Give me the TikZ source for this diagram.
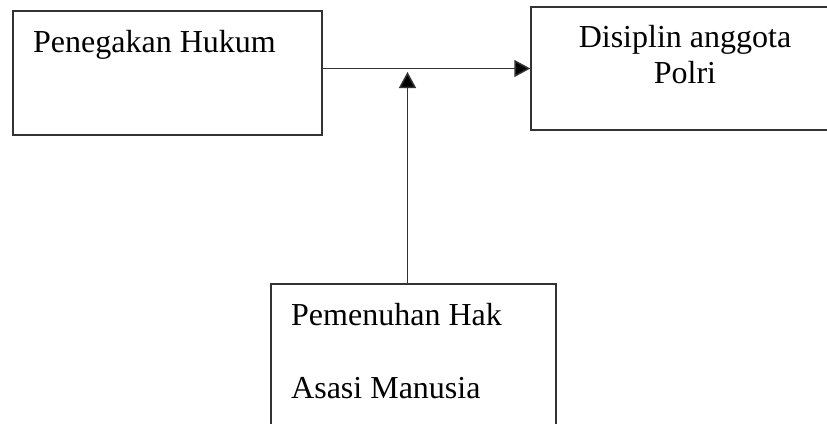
\documentclass[tikz,border=0pt]{standalone}
\usepackage{fontspec}
\setmainfont{Liberation Serif}
\usetikzlibrary{arrows.meta}
\begin{document}
\begin{tikzpicture}[x=1pt,y=-1pt,
  box/.style={draw=black!80,line width=1.5pt,inner sep=0pt,minimum width=#1},
  lbl/.style={font=\fontsize{32}{36}\selectfont,inner sep=0pt},
  arr/.style={line width=1.5pt,draw=black!80,-{Triangle[length=16pt,width=17pt,fill=black]}}]
\useasboundingbox (0,0) rectangle (827,423);
\node[box=309pt,minimum height=124pt] (hukum) at (167.5,73) {};
\node[box=308pt,minimum height=123pt] (polri) at (685,68.5) {};
\node[box=285pt,minimum height=156pt] (ham) at (413.5,362) {};
\node[lbl,anchor=base west] (t1) at (33,52) {Penegakan Hukum};
\node[lbl,anchor=base] (t2) at (685,47) {Disiplin anggota};
\node[lbl,anchor=base] (t3) at (685,83) {Polri};
\node[lbl,anchor=base west] (t4) at (291,325) {Pemenuhan Hak};
\node[lbl,anchor=base west] (t5) at (291,398) {Asasi Manusia};
\coordinate (tip) at (407.5,72);
\draw[arr] (hukum.east |- polri.west) -- (polri.west);
\draw[arr] (ham.north -| tip) -- (tip);
\end{tikzpicture}
\end{document}
